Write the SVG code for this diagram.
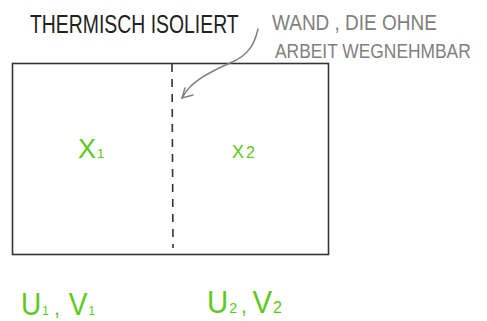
<svg xmlns="http://www.w3.org/2000/svg" width="487" height="321" viewBox="0 0 487 321">
<style>
.ink{font-family:"Liberation Sans","DejaVu Sans",sans-serif;fill:#222}
.grey{font-family:"Liberation Sans","DejaVu Sans",sans-serif;fill:#808080}
.g{font-family:"Liberation Sans","DejaVu Sans",sans-serif;fill:#5ec820}
.arw{fill:none;stroke:#808080;stroke-width:1.5;stroke-linecap:round}
</style>
<rect width="487" height="321" fill="#fff"/>
<g id="box">
<rect x="12.5" y="63.5" width="316" height="191" fill="none" stroke="#333" stroke-width="1.6"/>
</g>
<g id="connectors">
<line x1="172" y1="64" x2="173" y2="248" stroke="#333" stroke-width="1.6" stroke-dasharray="8,7"/>
<path class="arw" d="M258,29 C255,42 250,55 230,63 C212,71 198,78 190,87 C186,91 184,95 182,98"/>
<path class="arw" d="M185,88 L182,98 L193,95"/>
</g>
<g id="title">
<text class="ink" transform="translate(30,33) scale(1,1.35)" x="0" y="0" font-size="19.4">THERMISCH ISOLIERT</text>
</g>
<g id="note">
<text class="grey" transform="translate(272,30) scale(1,1.2)" x="0" y="0" font-size="19">WAND , DIE OHNE</text>
<text class="grey" transform="translate(275,58) scale(1,1.2)" x="0" y="0" font-size="17.4">ARBEIT WEGNEHMBAR</text>
</g>
<g id="x1">
<text class="g" x="78" y="158" font-size="27">X<tspan font-size="13" dx="1">1</tspan></text>
</g>
<g id="x2">
<text class="g" x="232" y="158" font-size="18">X<tspan font-size="16" dx="2">2</tspan></text>
</g>
<g id="uv1">
<text class="g" x="21" y="315" font-size="31" textLength="74" lengthAdjust="spacingAndGlyphs">U<tspan font-size="13" dx="1">1</tspan><tspan font-size="22" dx="6">,</tspan><tspan dx="10">V</tspan><tspan font-size="13" dx="1">1</tspan></text>
</g>
<g id="uv2">
<text class="g" x="207" y="313" font-size="31" textLength="75" lengthAdjust="spacingAndGlyphs">U<tspan font-size="15" dx="1">2</tspan><tspan font-size="22" dx="4">,</tspan><tspan dx="6">V</tspan><tspan font-size="17" dx="1">2</tspan></text>
</g>
</svg>
